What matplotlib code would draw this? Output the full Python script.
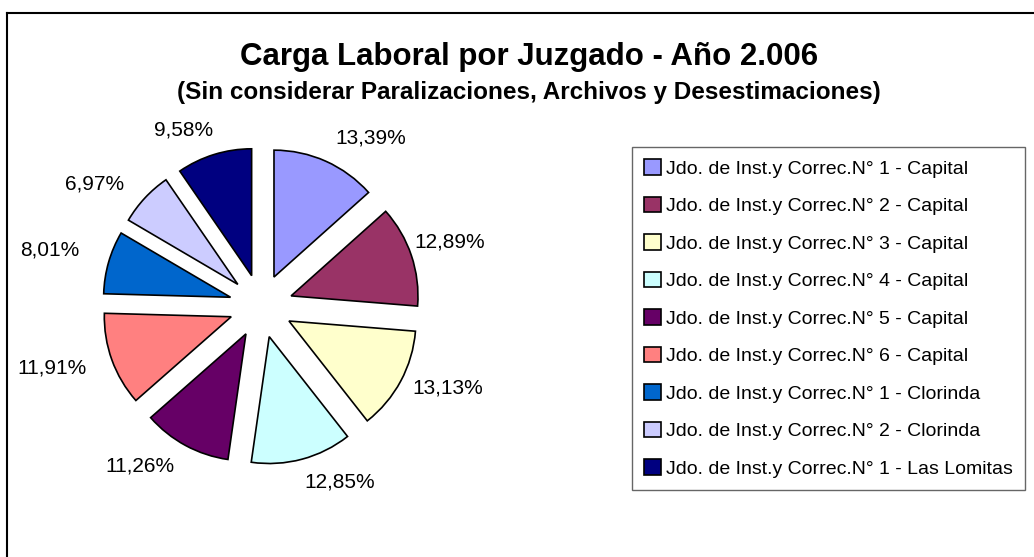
import numpy as np
import matplotlib.pyplot as plt
from matplotlib.lines import Line2D
from matplotlib.patches import Patch

# data ##########
juzgados = [
    "Jdo. de Inst.y Correc.N° 1 - Capital",
    "Jdo. de Inst.y Correc.N° 2 - Capital",
    "Jdo. de Inst.y Correc.N° 3 - Capital",
    "Jdo. de Inst.y Correc.N° 4 - Capital",
    "Jdo. de Inst.y Correc.N° 5 - Capital",
    "Jdo. de Inst.y Correc.N° 6 - Capital",
    "Jdo. de Inst.y Correc.N° 1 - Clorinda",
    "Jdo. de Inst.y Correc.N° 2 - Clorinda",
    "Jdo. de Inst.y Correc.N° 1 - Las Lomitas",
]
porcentajes = [13.39, 12.89, 13.13, 12.85, 11.26, 11.91, 8.01, 6.97, 9.58]
colores = ["#9999FF", "#993366", "#FFFFCC", "#CCFFFF", "#660066",
           "#FF8080", "#0066CC", "#CCCCFF", "#000080"]
#################

# label placement (polar, around pie centre): angle nudge in deg, distance in radii
lbl_shift = [-9, 0, 4.5, 9, -8.6, -3.4, 1, 6.7, 6.6]
lbl_dist = [1.58, 1.57, 1.61, 1.52, 1.58, 1.72, 1.72, 1.63, 1.52]

plt.rcParams['font.family'] = ['Liberation Sans', 'DejaVu Sans']

fig = plt.figure(figsize=(10.34, 5.57), dpi=100)
ax = fig.add_axes([0.0561, 0.0862, 0.3927, 0.7289])

wedges, _ = ax.pie(
    porcentajes, colors=colores, startangle=90, counterclock=False,
    explode=[0.25] * len(porcentajes), radius=1.0,
    wedgeprops=dict(edgecolor='black', linewidth=1.2))

for w, v, s, d in zip(wedges, porcentajes, lbl_shift, lbl_dist):
    th = np.deg2rad((w.theta1 + w.theta2) / 2 + s)
    ax.text(d * np.cos(th), d * np.sin(th), f"{v:.2f}%".replace('.', ','),
            ha='center', va='center', fontsize=15, clip_on=False)

ax.set_xlim(-1.6, 1.6)
ax.set_ylim(-1.6, 1.6)
ax.set_aspect('equal')
ax.axis('off')

fig.text(529 / 1034, 1 - 65 / 557, "Carga Laboral por Juzgado - Año 2.006",
         ha='center', va='baseline', fontsize=22.5, fontweight='bold')
fig.text(529 / 1034, 1 - 99 / 557,
         "(Sin considerar Paralizaciones, Archivos y Desestimaciones)",
         ha='center', va='baseline', fontsize=17.5, fontweight='bold')

handles = [Patch(facecolor=c, edgecolor='black', linewidth=1.2) for c in colores]
leg = fig.legend(handles, juzgados, loc='upper left',
                 bbox_to_anchor=(632 / 1034, 1 - 147 / 557),
                 fontsize=14, frameon=True, fancybox=False, edgecolor='#404040',
                 handlelength=0.85, handleheight=0.85, handletextpad=0.26,
                 labelspacing=0.98, borderpad=0.62, borderaxespad=0)
leg.get_frame().set_linewidth(1.0)

# chart area border (top and left)
fig.add_artist(Line2D([7 / 1034, 1], [1 - 13 / 557] * 2, color='black', lw=1.5))
fig.add_artist(Line2D([7 / 1034] * 2, [0, 1 - 13 / 557], color='black', lw=1.5))

fig.savefig("out.png", dpi=100, facecolor='white')
